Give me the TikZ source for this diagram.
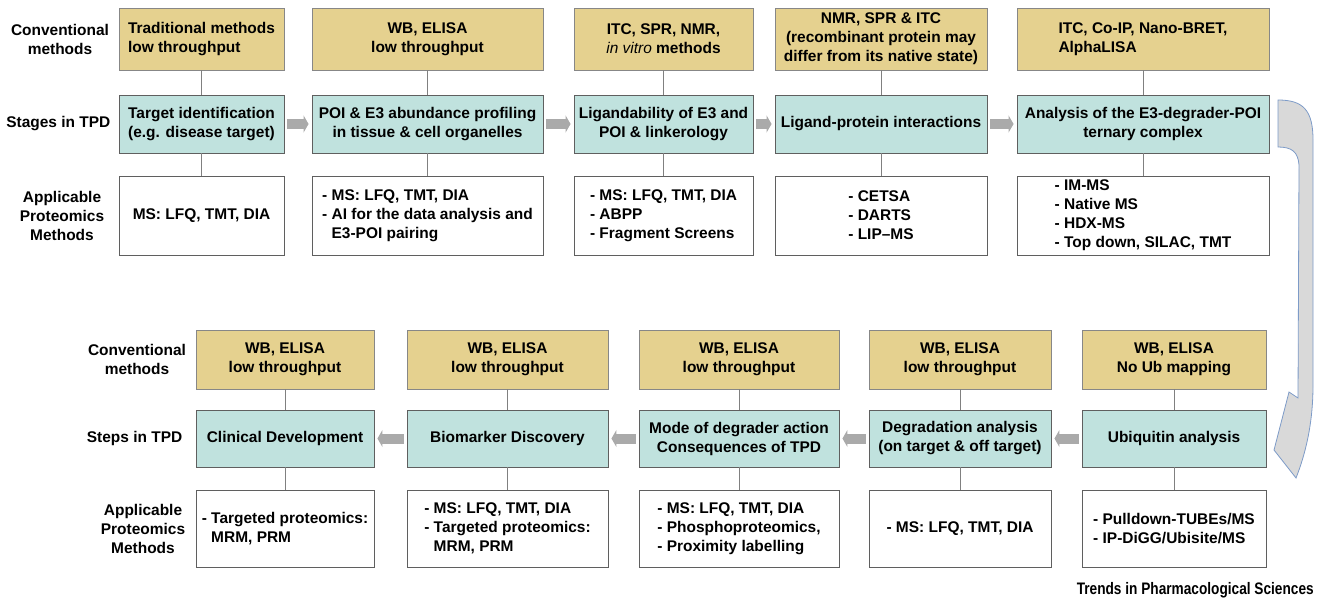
\documentclass[tikz,border=0pt]{standalone}
\usepackage{fontspec}
\setmainfont{Liberation Sans}
\usetikzlibrary{arrows.meta,positioning}
\definecolor{convtan}{RGB}{229,209,143}
\definecolor{stageteal}{RGB}{192,226,222}
\definecolor{boxedge}{RGB}{95,95,95}
\definecolor{flowgray}{RGB}{170,170,170}
\definecolor{curveedge}{RGB}{125,155,200}
\definecolor{curvefill}{RGB}{217,217,217}
\newdimen\pxu
\pxu=0.75pt
\tikzset{
  boxsize/.style 2 args={minimum width=#1\pxu, minimum height=#2\pxu},
  basebox/.style={draw=boxedge, line width=0.9\pxu, inner sep=2\pxu, align=center,
    font=\bfseries\fontsize{11.6}{14.25}\selectfont},
  convbox/.style={basebox, fill=convtan, draw=boxedge!75},
  stagebox/.style={basebox, fill=stageteal},
  methbox/.style={basebox, fill=white, align=left},
  rowlabel/.style={align=center, font=\bfseries\fontsize{11.6}{14.25}\selectfont},
  link/.style={draw=gray, line width=0.6pt},
  flow/.style={draw=flowgray, line width=7.5pt,
    -{Triangle[length=3.75pt, width=12.75pt]}, shorten <=2.25pt, shorten >=2.25pt},
}
\begin{document}
\begin{tikzpicture}[x=0.75pt, y=-0.75pt]
\useasboundingbox (0,0) rectangle (1324,599);

% first row: stages in TPD
\node[rowlabel] (lconv1) at (60,39) {Conventional\\methods};
\node[rowlabel, anchor=east] (lstage1) at (115,124) {Stages in TPD};
\node[rowlabel] (lmeth1) at (62,215.5) {Applicable\\Proteomics\\Methods};

\node[convbox, boxsize={165}{62}, align=left] (conv1) at (201.5,39) {Traditional methods\\low throughput};
\node[convbox, boxsize={231}{62}] (conv2) at (427.5,39) {WB, ELISA\\low throughput};
\node[convbox, boxsize={179}{62}] (conv3) at (663.5,39) {ITC, SPR, NMR,\\\textit{\mdseries in vitro} methods};
\node[convbox, boxsize={212}{62}] (conv4) at (881,39) {NMR, SPR \& ITC\\(recombinant protein may\\differ from its native state)};
\node[convbox, boxsize={252}{62}, align=left] (conv5) at (1143,39) {ITC, Co-IP, Nano-BRET,\\AlphaLISA};

\node[stagebox, boxsize={165}{58}] (stage1) at (201.5,124) {Target identification\\(e.g. disease target)};
\node[stagebox, boxsize={231}{58}] (stage2) at (427.5,124) {POI \& E3 abundance profiling\\in tissue \& cell organelles};
\node[stagebox, boxsize={179}{58}] (stage3) at (663.5,124) {Ligandability of E3 and\\POI \& linkerology};
\node[stagebox, boxsize={212}{58}] (stage4) at (881,124) {Ligand-protein interactions};
\node[stagebox, boxsize={252}{58}] (stage5) at (1143,124) {Analysis of the E3-degrader-POI\\ternary complex};

\node[methbox, boxsize={165}{79}, align=center] (meth1) at (201.5,215.5) {MS: LFQ, TMT, DIA};
\node[methbox, boxsize={231}{79}] (meth2) at (427.5,215.5) {- MS: LFQ, TMT, DIA\\- AI for the data analysis and\\\phantom{- }E3-POI pairing};
\node[methbox, boxsize={179}{79}] (meth3) at (663.5,215.5) {- MS: LFQ, TMT, DIA\\- ABPP\\- Fragment Screens};
\node[methbox, boxsize={212}{79}] (meth4) at (881,215.5) {- CETSA\\- DARTS\\- LIP--MS};
\node[methbox, boxsize={252}{79}] (meth5) at (1143,215.5) {- IM-MS\\- Native MS\\- HDX-MS\\- Top down, SILAC, TMT};

% second row: steps in TPD
\node[rowlabel] (lconv2) at (137,359.5) {Conventional\\methods};
\node[rowlabel, anchor=east] (lstage2) at (187,438.5) {Steps in TPD};
\node[rowlabel] (lmeth2) at (143,528.5) {Applicable\\Proteomics\\Methods};

\node[convbox, boxsize={184}{59}] (conv6) at (1174,359.5) {WB, ELISA\\No Ub mapping};
\node[convbox, boxsize={182}{59}] (conv7) at (960,359.5) {WB, ELISA\\low throughput};
\node[convbox, boxsize={200}{59}] (conv8) at (739,359.5) {WB, ELISA\\low throughput};
\node[convbox, boxsize={201}{59}] (conv9) at (507.5,359.5) {WB, ELISA\\low throughput};
\node[convbox, boxsize={178}{59}] (conv10) at (285,359.5) {WB, ELISA\\low throughput};

\node[stagebox, boxsize={184}{57}] (stage6) at (1174,438.5) {Ubiquitin analysis};
\node[stagebox, boxsize={182}{57}] (stage7) at (960,438.5) {Degradation analysis\\(on target \& off target)};
\node[stagebox, boxsize={200}{57}] (stage8) at (739,438.5) {Mode of degrader action\\Consequences of TPD};
\node[stagebox, boxsize={201}{57}] (stage9) at (507.5,438.5) {Biomarker Discovery};
\node[stagebox, boxsize={178}{57}] (stage10) at (285,438.5) {Clinical Development};

\node[methbox, boxsize={184}{77}] (meth6) at (1174,528.5) {- Pulldown-TUBEs/MS\\- IP-DiGG/Ubisite/MS};
\node[methbox, boxsize={182}{77}] (meth7) at (960,528.5) {- MS: LFQ, TMT, DIA};
\node[methbox, boxsize={200}{77}] (meth8) at (739,528.5) {- MS: LFQ, TMT, DIA\\- Phosphoproteomics,\\- Proximity labelling};
\node[methbox, boxsize={201}{77}] (meth9) at (507.5,528.5) {- MS: LFQ, TMT, DIA\\- Targeted proteomics:\\\phantom{- }MRM, PRM};
\node[methbox, boxsize={178}{77}] (meth10) at (285,528.5) {- Targeted proteomics:\\\phantom{- }MRM, PRM};

% vertical links
\foreach \i in {1,...,10} {
  \draw[link] (conv\i) -- (stage\i);
  \draw[link] (stage\i) -- (meth\i);
}

% flow between stages
\foreach \a/\b in {1/2,2/3,3/4,4/5,6/7,7/8,8/9,9/10}
  \draw[flow] (stage\a) -- (stage\b);

% turn from the first row to the second
\draw[curveedge, fill=curvefill, line width=0.6pt]
  (1278,100) .. controls (1303,100) and (1313,110) .. (1313,140)
  -- (1313,385)
  .. controls (1313,425) and (1305,455) .. (1296,478)
  -- (1274,450) -- (1289,392) -- (1298,398)
  -- (1299,165)
  .. controls (1298,152) and (1292,147) .. (1278,147) -- cycle;

\node[font=\bfseries\fontsize{12.5}{14}\selectfont, anchor=east, inner sep=0pt] (journal) at (1314,590)
  {\scalebox{0.82}[1]{Trends in Pharmacological Sciences}};
\end{tikzpicture}
\end{document}
